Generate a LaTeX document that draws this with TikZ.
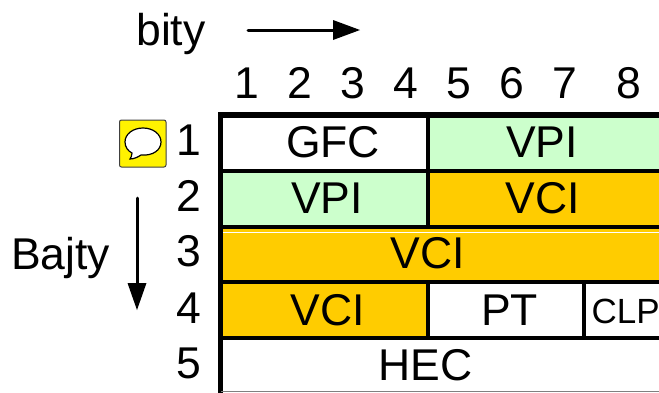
\documentclass[tikz,border=0pt]{standalone}
\usepackage{fontspec}
\setmainfont{Liberation Sans}
\definecolor{vpigreen}{HTML}{CCFFCC}
\definecolor{vciorange}{HTML}{FFCC00}
\tikzset{
  big/.style={inner sep=0pt,font=\fontsize{44.5}{44.5}\selectfont,anchor=base},
  small/.style={inner sep=0pt,font=\fontsize{35}{35}\selectfont,anchor=base},
  cell/.style={draw=black,line width=4.5pt,line join=miter},
  arrowline/.style={line width=3pt,line cap=round}
}
\begin{document}
\begin{tikzpicture}[x=1pt,y=-1pt]
\useasboundingbox (0,0) rectangle (659,392);
\clip (0,0) rectangle (659,392);
% cells
\draw[cell,fill=white] (221,116) rectangle (428,171);
\draw[cell,fill=vpigreen] (428,116) rectangle (670,171);
\draw[cell,fill=vpigreen] (221,171) rectangle (428,227);
\draw[cell,fill=vciorange] (428,171) rectangle (670,227);
\draw[cell,fill=vciorange] (221,227) rectangle (670,282);
\draw[cell,fill=vciorange] (221,282) rectangle (428,338);
\draw[cell,fill=white] (428,282) rectangle (584,338);
\draw[cell,fill=white] (584,282) rectangle (670,338);
\draw[cell,fill=white] (221,338) rectangle (670,410);
% thin light seam in row 3
\draw[white,line width=0.7pt] (223,232.7) -- (670,232.7);
% heavier outer edge
\draw[line width=5.5pt] (220.5,410) -- (220.5,115) -- (670,115);
\draw[gray,line width=1pt] (221,391.5) -- (659,391.5);
% cell labels
\node[big] (gfc) at (333,157) {GFC};
\node[big] (vpia) at (542,157) {VPI};
\node[big] (vpib) at (327,213) {VPI};
\node[big] (vcia) at (543,213) {VCI};
\node[big] (vcib) at (428,268) {VCI};
\node[big] (vcic) at (328,325) {VCI};
\node[big] (pt) at (509.5,325) {PT};
\node[small,anchor=base west] (clp) at (591.5,323) {CLP};
\node[big] (hec) at (425.5,380) {HEC};
% bit numbers
\foreach \n/\x in {1/247,2/300,3/353,4/406,5/459,6/512,7/565,8/629}
  \node[big] (bit\n) at (\x,98) {\n};
% byte numbers
\foreach \n/\y in {1/155,2/211,3/266,4/323,5/378}
  \node[big] (byte\n) at (189,\y) {\n};
% titles and arrows
\node[big] (bity) at (171,45) {bity};
\node[big] (bajty) at (60.5,269) {Bajty};
\coordinate (ha) at (248,30);
\coordinate (hb) at (360,30);
\coordinate (va) at (137,198);
\coordinate (vb) at (137,310);
\draw[arrowline] (ha) -- (335,30);
\fill (hb) -- (333,20) -- (333,40) -- cycle;
\draw[arrowline] (va) -- (137,285);
\fill (vb) -- (127.5,283) -- (146.5,283) -- cycle;
% comment icon
\draw[fill=yellow,draw=black!75,line width=1pt,rounded corners=2pt] (119.5,120) rectangle (166,167);
\draw[fill=white,draw=black,line width=1.2pt]
  (143,128) .. controls (133,128) and (125,134) .. (125,142)
  .. controls (125,147) and (128,151) .. (132,153)
  .. controls (132,155) and (131,158) .. (130,159)
  .. controls (134,159) and (138,157) .. (141,155)
  .. controls (153,156) and (161,150) .. (161,142)
  .. controls (161,134) and (153,128) .. (143,128) -- cycle;
\end{tikzpicture}
\end{document}
